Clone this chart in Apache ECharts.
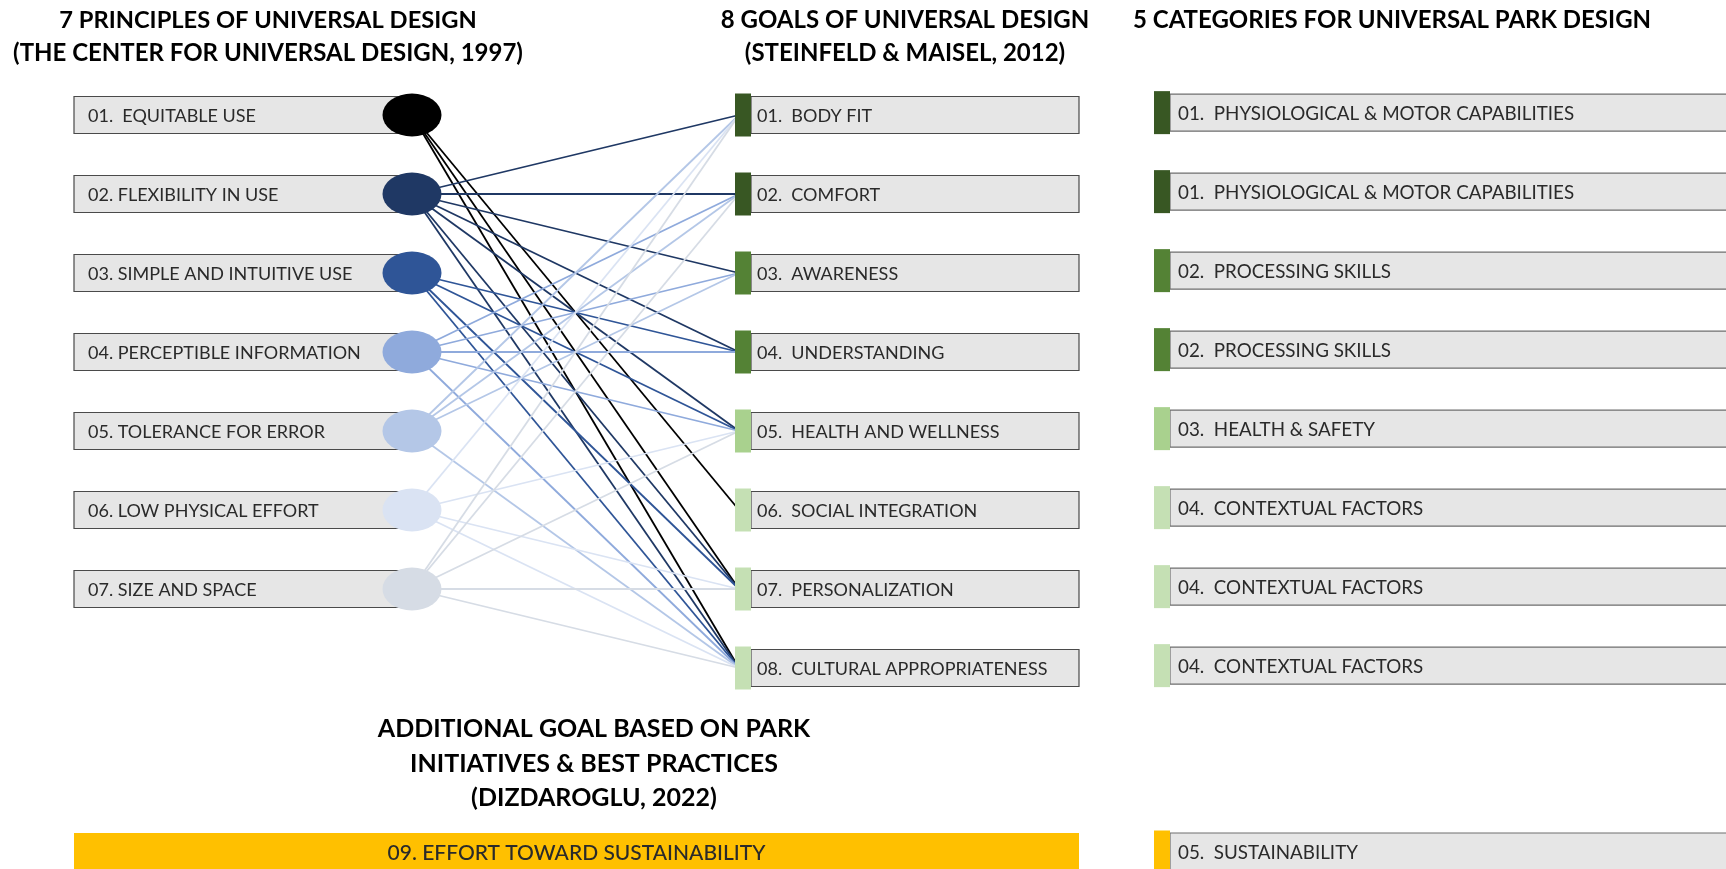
<!DOCTYPE html>
<html><head><meta charset="utf-8">
<script src="https://cdn.jsdelivr.net/npm/echarts@6/dist/echarts.min.js"></script>
<style>html,body{margin:0;padding:0;background:#fff}#c{width:1726px;height:869px}</style>
</head><body><div id="c"></div>
<script>
// ---------------- DATA ----------------
const principles = [
  '01.  EQUITABLE USE',
  '02. FLEXIBILITY IN USE',
  '03. SIMPLE AND INTUITIVE USE',
  '04. PERCEPTIBLE INFORMATION',
  '05. TOLERANCE FOR ERROR',
  '06. LOW PHYSICAL EFFORT',
  '07. SIZE AND SPACE'
];
const principleColors = ['#000000', '#1f3864', '#2f5597', '#8faadc', '#b4c7e7', '#dae3f3', '#d6dce5'];

const goals = [
  '01.  BODY FIT',
  '02.  COMFORT',
  '03.  AWARENESS',
  '04.  UNDERSTANDING',
  '05.  HEALTH AND WELLNESS',
  '06.  SOCIAL INTEGRATION',
  '07.  PERSONALIZATION',
  '08.  CULTURAL APPROPRIATENESS'
];
const goalColors = ['#385723', '#385723', '#548235', '#548235', '#a9d18e', '#c5e0b4', '#c5e0b4', '#c5e0b4'];

const categories = [
  '01.  PHYSIOLOGICAL & MOTOR CAPABILITIES',
  '01.  PHYSIOLOGICAL & MOTOR CAPABILITIES',
  '02.  PROCESSING SKILLS',
  '02.  PROCESSING SKILLS',
  '03.  HEALTH & SAFETY',
  '04.  CONTEXTUAL FACTORS',
  '04.  CONTEXTUAL FACTORS',
  '04.  CONTEXTUAL FACTORS'
];
const categoryColors = ['#385723', '#385723', '#548235', '#548235', '#a9d18e', '#c5e0b4', '#c5e0b4', '#c5e0b4'];

// links: [principle index, goal index]
const links = [
  [0, 5], [0, 6], [0, 7],
  [1, 0], [1, 1], [1, 2], [1, 3], [1, 4], [1, 6], [1, 7],
  [2, 3], [2, 4], [2, 6], [2, 7],
  [3, 1], [3, 2], [3, 3], [3, 4], [3, 7],
  [4, 0], [4, 1], [4, 2], [4, 7],
  [5, 0], [5, 4], [5, 6], [5, 7],
  [6, 0], [6, 1], [6, 4], [6, 6], [6, 7]
];

const additionalGoal = '09. EFFORT TOWARD SUSTAINABILITY';
const additionalGoalColor = '#ffc000';
const sustainabilityCategory = '05.  SUSTAINABILITY';

const titlePrinciples = ['7 PRINCIPLES OF UNIVERSAL DESIGN', '(THE CENTER FOR UNIVERSAL DESIGN, 1997)'];
const titleGoals = ['8 GOALS OF UNIVERSAL DESIGN', '(STEINFELD & MAISEL, 2012)'];
const titleCategories = ['5 CATEGORIES FOR UNIVERSAL PARK DESIGN'];
const titleAdditional = ['ADDITIONAL GOAL BASED ON PARK', 'INITIATIVES & BEST PRACTICES', '(DIZDAROGLU, 2022)'];

// ---------------- LAYOUT ----------------
const W = 1726, H = 869;
const rowTop = 115, rowStep = 79;            // pixel position of row 0 and spacing
const L = {
  leftBoxX0: 74, leftBoxX1: 412, ellipseX: 412, ellipseW: 59, ellipseH: 43,
  tabX0: 735, tabX1: 751, midBoxX1: 1079,
  rTabX0: 1154, rTabX1: 1170, rBoxX1: 1760,
  boxH: 37, tabH: 43,
  rightShift: -0.03,
  sustRow: (852 - rowTop) / rowStep,
  labelFont: '18px Lato',
  rightFont: '18.8px Lato',
  labelColor: '#2a2a2a',
  boxFill: '#e6e6e6',
  boxStroke: '#4a4a4a'
};

const chart = echarts.init(document.getElementById('c'), null, { renderer: 'canvas' });

function boxSeries(name, items, z) {
  return {
    type: 'custom', name: name, coordinateSystem: 'cartesian2d', z: z, silent: true,
    data: items.map(it => [it.x0, it.row]),
    renderItem: function (params, api) {
      const it = items[params.dataIndex];
      const a = api.coord([it.x0, it.row]);
      const b = api.coord([it.x1, it.row]);
      const children = [];
      const h = it.h || L.boxH;
      children.push({
        type: 'rect',
        shape: { x: a[0], y: a[1] - h / 2, width: b[0] - a[0], height: h },
        style: { fill: it.fill || L.boxFill, stroke: it.noStroke ? null : (it.stroke || L.boxStroke), lineWidth: 1.2 }
      });
      if (it.tab) {
        const t0 = api.coord([it.tab.x0, it.row]);
        const t1 = api.coord([it.tab.x1, it.row]);
        children.push({
          type: 'rect',
          shape: { x: t0[0], y: t0[1] - L.tabH / 2, width: t1[0] - t0[0], height: L.tabH },
          style: { fill: it.tab.color }
        });
      }
      const tp = api.coord([it.textX, it.row]);
      children.push({
        type: 'text',
        style: {
          text: it.text, x: tp[0], y: tp[1] + 1,
          align: it.align || 'left', verticalAlign: 'middle',
          font: it.font || L.labelFont, fill: L.labelColor
        }
      });
      return { type: 'group', children: children };
    }
  };
}

const leftItems = principles.map((t, i) => ({
  x0: L.leftBoxX0, x1: L.leftBoxX1, row: i, text: t, textX: L.leftBoxX0 + 14
}));
const midItems = goals.map((t, i) => ({
  x0: L.tabX1, x1: L.midBoxX1, row: i, text: t, textX: L.tabX1 + 6,
  tab: { x0: L.tabX0, x1: L.tabX1, color: goalColors[i] }
}));
const rightItems = categories.map((t, i) => ({
  x0: L.rTabX1, x1: L.rBoxX1, row: i + L.rightShift, text: t, textX: L.rTabX1 + 8,
  stroke: '#6e6e6e', font: L.rightFont,
  tab: { x0: L.rTabX0, x1: L.rTabX1, color: categoryColors[i] }
}));
rightItems.push({
  x0: L.rTabX1, x1: L.rBoxX1, row: L.sustRow, text: sustainabilityCategory, textX: L.rTabX1 + 8,
  stroke: '#6e6e6e', h: 38, font: L.rightFont,
  tab: { x0: L.rTabX0, x1: L.rTabX1, color: additionalGoalColor }
});
const barItems = [{
  x0: L.leftBoxX0, x1: L.midBoxX1, row: L.sustRow, text: additionalGoal,
  textX: (L.leftBoxX0 + L.midBoxX1) / 2, align: 'center', fill: additionalGoalColor, noStroke: true,
  h: 38, font: '500 21px Lato'
}];

const linkData = links.map(([p, g]) => ({
  coords: [[L.ellipseX, p], [L.tabX0 + 4, g]],
  lineStyle: { color: principleColors[p] }
}));

const ellipseData = principles.map((t, i) => ({
  value: [L.ellipseX, i], itemStyle: { color: principleColors[i], opacity: 1 }
}));

function textLines(lines, x, y0, dy, font, align) {
  return lines.map((t, i) => ({
    type: 'text', x: x, y: y0 + i * dy, silent: true,
    style: { text: t, align: align || 'center', verticalAlign: 'middle', font: font, fill: '#000' }
  }));
}
const titleFont = 'bold 24px Lato';

const option = {
  animation: false,
  backgroundColor: '#ffffff',
  grid: { left: 0, right: 0, top: 0, bottom: 0 },
  xAxis: { type: 'value', min: 0, max: W, show: false },
  yAxis: { type: 'value', inverse: true, min: -rowTop / rowStep, max: (H - rowTop) / rowStep, show: false },
  graphic: [].concat(
    textLines([titlePrinciples[0]], 268, 20, 33, 'bold 23.7px Lato'),
    textLines([titlePrinciples[1]], 268, 53, 33, titleFont),
    textLines(titleGoals, 905, 20, 33, titleFont),
    textLines(titleCategories, 1133, 20, 33, titleFont, 'left'),
    textLines(titleAdditional, 594, 729, 34.5, 'bold 25px Lato')
  ),
  series: [
    boxSeries('principles', leftItems, 1),
    {
      type: 'lines', coordinateSystem: 'cartesian2d', z: 2, silent: true,
      lineStyle: { width: 1.8, opacity: 1 },
      data: linkData
    },
    {
      type: 'scatter', z: 3, silent: true, symbol: 'circle',
      symbolSize: [L.ellipseW, L.ellipseH],
      itemStyle: { opacity: 1 },
      data: ellipseData
    },
    boxSeries('goals', midItems, 3),
    boxSeries('categories', rightItems, 3),
    boxSeries('additional', barItems, 3)
  ]
};
chart.setOption(option);
</script>
</body></html>
